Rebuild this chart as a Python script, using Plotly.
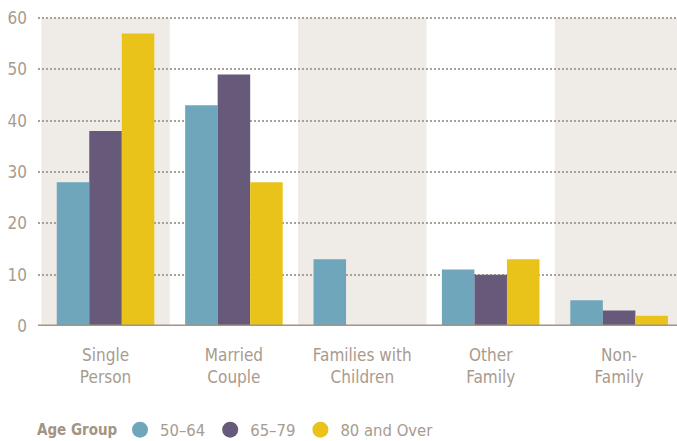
import plotly.graph_objects as go

categories = ["Single<br>Person", "Married<br>Couple", "Families with<br>Children", "Other<br>Family", "Non-<br>Family"]
series_names = ["50–64", "65–79", "80 and Over"]
v_50_64 = [28, 43, 13, 11, 5]
v_65_79 = [38, 49, 0, 10, 3]
v_80_over = [57, 28, 0, 13, 2]
y_ticks = [0, 10, 20, 30, 40, 50, 60]

colors = ["#6fa6bb", "#665979", "#e9c21a"]
text_color = "#a89b8e"
font_family = "DejaVu Sans Condensed, Liberation Sans Narrow, sans-serif"

fig = go.Figure()
for name, vals, col in zip(series_names, [v_50_64, v_65_79, v_80_over], colors):
    fig.add_trace(go.Bar(x=categories, y=vals, name=name, marker=dict(color=col, line=dict(width=0)),
                         showlegend=False))
    fig.add_trace(go.Scatter(x=[None], y=[None], mode="markers", name=name,
                             marker=dict(symbol="circle", size=19, color=col)))

shapes = []
for i in range(len(categories)):
    if i % 2 == 0:
        shapes.append(dict(type="rect", xref="x", yref="y", x0=i - 0.5, x1=i + 0.5, y0=0, y1=60,
                           fillcolor="#efebe6", line=dict(width=0), layer="below"))
shapes.append(dict(type="line", xref="paper", yref="y", x0=0, x1=1, y0=0, y1=0,
                   line=dict(color="#a39483", width=3), layer="above"))

fig.update_layout(
    width=677, height=441,
    margin=dict(l=38, r=0, t=17, b=115),
    paper_bgcolor="white", plot_bgcolor="white",
    barmode="group", bargap=0.24, bargroupgap=0,
    shapes=shapes,
    font=dict(family=font_family, color=text_color, size=16),
    xaxis=dict(tickfont=dict(size=17, color=text_color), showgrid=False, ticks="",
               range=[-0.526, 4.451], fixedrange=True, automargin=False, ticklabelstandoff=17),
    yaxis=dict(range=[0, 60.2], tickvals=y_ticks, tickfont=dict(size=17, color=text_color),
               showgrid=True, gridcolor="#aaa096", griddash="2px,2px", gridwidth=2,
               zeroline=False, ticks="", ticklen=0, automargin=False, ticklabelstandoff=10,
               fixedrange=True),
    legend=dict(orientation="h", xref="container", x=120 / 677, xanchor="left",
                yref="container", y=0.025, yanchor="middle",
                font=dict(size=16.5, color=text_color), itemwidth=30),
    annotations=[dict(text="<b>Age Group</b>", xref="paper", yref="paper",
                      x=-3 / 639, xanchor="left", y=-0.3366, yanchor="middle", showarrow=False,
                      font=dict(size=15, color="#a39483"))],
)

fig.write_html("out.html", config={"displayModeBar": False},
               post_script="document.body.style.margin='0';")
